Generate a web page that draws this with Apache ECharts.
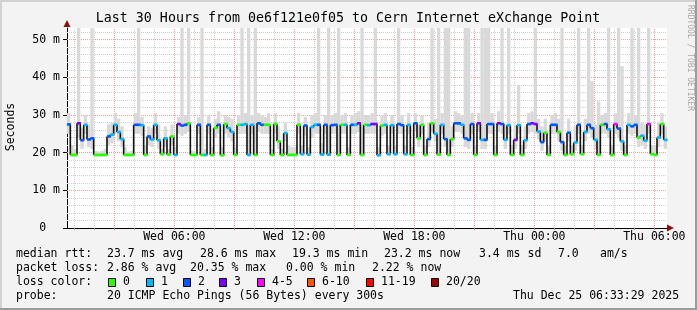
<!DOCTYPE html>
<html><head><meta charset="utf-8">
<script src="https://cdn.jsdelivr.net/npm/echarts@6/dist/echarts.min.js"></script>
<style>html,body{margin:0;padding:0;background:#f3f3f3;}#c{width:697px;height:310px;}</style>
</head><body><div id="c"></div>
<script>
// ---- data (10-minute samples, Wed 00:38 -> Thu 06:38) ----
const startHour = 0.633;      // hours since Wed 00:00
const stepHours = 1 / 6;
const median = [
27.5,19.4,19.4,27.8,23.3,27.4,23.5,23.8,19.4,19.4,
19.4,19.4,24.3,24.8,27.4,25.5,23.6,19.4,19.4,19.4,
27.4,27.4,27.3,19.4,24.3,23.5,27.4,23.3,19.6,23.8,
19.5,24.3,19.4,27.6,27.2,27.4,27.8,19.4,19.4,27.4,
19.4,19.4,27.4,19.4,26.6,27.4,19.3,27.6,26.5,25.5,
19.4,27.4,27.4,27.6,19.4,27.4,19.4,27.8,27.4,27.4,
27.4,19.4,27.6,23.0,19.4,25.2,19.4,19.4,19.4,27.4,
19.6,27.2,19.5,26.8,27.4,27.4,19.5,27.4,19.5,27.3,
27.4,19.4,27.4,27.4,19.4,27.4,27.4,27.8,19.4,27.4,
27.3,27.6,27.6,19.3,27.2,27.4,19.6,27.3,19.6,27.6,
27.3,19.6,27.4,19.4,27.8,23.8,27.4,19.4,23.6,27.8,
25.0,19.5,27.4,23.6,19.4,23.6,27.8,27.8,27.4,23.8,
23.4,27.6,19.4,27.8,23.4,23.4,27.6,27.6,19.4,27.8,
27.6,23.4,27.3,19.4,23.4,27.3,19.4,23.3,27.6,27.8,
27.6,25.6,22.8,25.3,19.4,27.4,27.4,25.5,22.8,19.4,
25.3,19.6,22.7,27.4,19.6,25.5,27.4,26.5,23.4,19.4,
27.4,27.6,26.2,19.4,27.6,26.4,23.0,19.4,27.4,27.0,
27.4,24.0,24.5,23.2,27.6,19.6,19.4,24.0,27.6,23.4];
const loss = [
2,0,0,3,2,1,2,2,0,0, 0,0,2,1,1,1,1,0,0,0, 2,2,1,0,2,1,1,1,0,1,
0,0,1,3,2,2,0,0,0,2, 0,1,2,0,0,2,0,0,1,1, 0,0,1,1,1,1,0,2,2,0,
0,0,0,0,0,1,0,0,0,0, 1,2,1,1,1,2,1,2,1,2, 2,0,0,1,0,2,1,3,0,0,
1,3,3,1,0,1,1,1,1,2, 2,1,1,0,2,0,0,0,2,0, 1,0,1,2,0,0,2,2,1,2,
2,2,0,3,1,2,2,2,0,3, 2,1,1,0,3,1,0,1,2,3, 3,1,2,0,0,2,2,0,2,0,
2,0,1,2,0,1,2,2,1,0, 0,2,1,0,4,2,1,0,1,2, 2,0,1,1,4,0,0,1,0,1];
const smokeMin = [
25.0,19.0,19.0,24.0,21.0,25.0,21.5,21.0,19.0,19.0,
19.0,19.0,22.0,22.5,25.0,23.0,21.5,19.0,19.0,19.0,
25.0,25.0,24.5,19.0,22.0,21.5,25.0,21.0,19.2,21.5,
19.1,22.0,19.0,25.0,24.5,25.0,25.5,19.0,19.0,25.0,
19.0,19.0,25.0,19.0,24.0,25.0,19.0,25.0,24.0,23.0,
19.0,25.0,25.0,25.0,19.0,25.0,19.0,25.5,25.0,25.0,
25.0,19.0,25.0,21.0,19.0,23.0,19.0,19.0,19.0,25.0,
19.2,24.5,19.1,24.0,25.0,25.0,19.1,25.0,19.1,25.0,
25.0,19.0,25.0,25.0,19.0,25.0,25.0,25.5,19.0,25.0,
25.0,25.0,25.0,19.0,24.5,25.0,19.2,25.0,19.2,25.0,
25.0,19.2,25.0,19.0,25.5,21.5,25.0,19.0,21.5,25.5,
23.0,19.1,25.0,21.5,19.0,21.5,25.5,25.5,25.0,21.5,
21.0,25.0,19.0,25.5,21.0,21.0,25.0,25.0,19.0,25.5,
25.0,21.0,25.0,19.0,21.0,25.0,19.0,21.0,25.0,25.5,
25.0,23.5,20.5,23.0,19.0,25.0,25.0,23.0,20.5,19.0,
23.0,19.2,20.5,25.0,19.2,23.0,25.0,24.0,21.0,19.0,
25.0,25.0,24.0,19.0,25.0,24.0,20.5,19.0,25.0,24.5,
25.0,21.5,22.0,21.0,25.0,19.2,19.0,21.5,25.0,21.0];
const smokeMax = [
30.5,22.0,21.0,60,26.5,30.0,27.5,60,20.5,20.3,
20.5,21.0,27.5,28.0,30.5,29.0,27.0,21.5,20.3,20.5,
30.5,60,29.5,22.0,27.0,26.5,30.5,27.5,21.0,27.0,
21.0,27.5,21.5,29.5,60,30.0,60,20.5,20.3,29.5,
60,21.0,30.0,21.5,29.0,31.0,21.5,30.0,29.5,29.0,
21.5,30.0,60,30.5,60,30.0,60,30.5,30.0,29.5,
30.5,21.0,30.5,27.0,21.0,28.0,22.0,21.5,21.5,30.5,
22.0,29.5,21.5,30.0,30.5,60,22.5,30.0,60,30.0,
30.5,60,30.0,30.5,21.5,30.0,30.5,31.0,60,30.0,
30.0,30.5,60,21.5,30.0,30.5,22.0,30.0,22.0,60,
30.0,22.0,30.5,21.5,30.5,27.5,30.0,22.0,28.0,60,
29.0,60,30.5,60,60,27.0,31.0,30.5,30.0,60,
60,30.5,22.0,30.5,60,60,60,30.5,22.0,31.0,
60,27.5,60,22.0,27.5,38,22.0,27.0,30.5,31.0,
60,29.0,27.0,29.0,22.0,30.0,30.5,29.0,60,22.0,
29.0,22.0,27.0,60,22.0,29.0,60,39,27.5,33.6,
30.0,30.5,60,22.0,30.5,60,43,22.0,30.5,60,
30.0,60,28.0,27.5,60,22.0,22.0,28.0,30.5,27.0];

const xLabelHours = [6, 12, 18, 24, 30];
const yTicks = [0, 10, 20, 30, 40, 50];
const lossLabels = ['0', '1', '2', '3', '4-5', '6-10', '11-19', '20/20'];
const lossUpper  = [0, 1, 2, 3, 5, 10, 19, 20];
const lossColors = ['#26ff00', '#00b8ff', '#0059ff', '#7e00ff', '#ff00ff', '#ff5500', '#ff0000', '#a00000'];

const titleText = 'Last 30 Hours from 0e6f121e0f05 to Cern Internet eXchange Point';
const rttTexts  = ['median rtt:', '23.7 ms avg', '28.6 ms max', '19.3 ms min', '23.2 ms now', '3.4 ms sd', '7.0', 'am/s'];
const lossTexts = ['packet loss:', '2.86 % avg', '20.35 % max', '0.00 % min', '2.22 % now'];
const probeTexts = ['probe:', '20 ICMP Echo Pings (56 Bytes) every 300s', 'Thu Dec 25 06:33:29 2025'];

// ---- layout ----
const rttX   = [16, 107, 200, 292, 384, 479, 558, 600];
const lossX  = [16, 107, 190, 286, 372];
const probeX = [16, 107, 513];
const boxX   = [108, 146, 183, 219, 257, 307, 366, 431];
const MONO = '"DejaVu Sans Mono", monospace';
const FS = 11.5;
const F = FS + 'px ' + MONO;

const times = median.map((_, i) => +(startHour + (i + 0.5) * stepHours).toFixed(4));
function lossColor(n) { for (let k = 0; k < lossUpper.length; k++) if (n <= lossUpper[k]) return lossColors[k]; return lossColors[lossColors.length - 1]; }

const RED = '#f4a0a0', GRAY = '#d0d0d0';
const gridLines = [];
for (let h = 1; h <= 30; h++) gridLines.push({ xAxis: h, lineStyle: { color: h % 3 === 0 ? RED : GRAY, type: [1, 1], width: 1 } });
for (let v = 2; v <= 52; v += 2) gridLines.push({ yAxis: v, lineStyle: { color: v % 10 === 0 ? RED : GRAY, type: [1, 1], width: 1 } });
const hourTicks = []; for (let h = 1; h <= 30; h++) hourTicks.push(h);

function dayLabel(h) {
  const day = h < 24 ? 'Wed' : 'Thu';
  const hh = h % 24;
  return day + ' ' + (hh < 10 ? '0' : '') + hh + ':00';
}

const graphic = [];
function txt(x, y, s) { graphic.push({ type: 'text', x: x, y: y, silent: true, style: { text: s, font: F, fill: '#000', align: 'left', verticalAlign: 'middle' } }); }
graphic.push({ type: 'text', x: 348, y: 19, silent: true, style: { text: titleText, font: '13.3px ' + MONO, fill: '#000', align: 'center', verticalAlign: 'middle' } });
graphic.push({ type: 'text', x: 11, y: 127, rotation: Math.PI / 2, silent: true, style: { text: 'Seconds', font: F, fill: '#000', align: 'center', verticalAlign: 'middle' } });
graphic.push({ type: 'text', x: 690, y: 58, rotation: -Math.PI / 2, silent: true, style: { text: 'RRDTOOL / TOBI OETIKER', font: '8px ' + MONO, fill: '#a8a8a8', align: 'center', verticalAlign: 'middle' } });
rttTexts.forEach((s, i) => txt(rttX[i], 254, s));
lossTexts.forEach((s, i) => txt(lossX[i], 268, s));
txt(16, 282, 'loss color:');
lossLabels.forEach((s, i) => {
  graphic.push({ type: 'rect', silent: true, shape: { x: boxX[i] + 0.5, y: 278.5, width: 7, height: 8 }, style: { fill: lossColors[i], stroke: '#000', lineWidth: 1 } });
  txt(boxX[i] + 15, 282, s);
});
probeTexts.forEach((s, i) => txt(probeX[i], 296, s));
graphic.push({ type: 'polygon', silent: true, shape: { points: [[67, 20], [63.5, 27], [70.5, 27]] }, style: { fill: '#8b1010' } });
graphic.push({ type: 'polygon', silent: true, shape: { points: [[674, 228], [667, 224.5], [667, 231.5]] }, style: { fill: '#8b1010' } });
graphic.push({ type: 'rect', silent: true, shape: { x: 0, y: 0, width: 697, height: 2 }, style: { fill: '#d2d2d2' } });
graphic.push({ type: 'rect', silent: true, shape: { x: 0, y: 0, width: 2, height: 310 }, style: { fill: '#d2d2d2' } });
graphic.push({ type: 'rect', silent: true, shape: { x: 0, y: 308, width: 697, height: 2 }, style: { fill: '#9c9c9c' } });
graphic.push({ type: 'rect', silent: true, shape: { x: 695, y: 0, width: 2, height: 310 }, style: { fill: '#9c9c9c' } });

function clipTo(cs, r) {
  return echarts.graphic.clipRectByRect(r, { x: cs.x, y: cs.y, width: cs.width, height: cs.height });
}
function smokeItem(params, api) {
  const t = api.value(0), lo = api.value(1), hi = api.value(2);
  const p0 = api.coord([t - stepHours / 2, hi]);
  const p1 = api.coord([t + stepHours / 2, lo]);
  const r = clipTo(params.coordSys, { x: p0[0], y: p0[1], width: p1[0] - p0[0], height: p1[1] - p0[1] });
  return r ? { type: 'rect', shape: r, style: { fill: '#d9d9d9' } } : null;
}
function medianItem(params, api) {
  const t = api.value(0), v = api.value(1), n = api.value(2), vn = api.value(3);
  const a = api.coord([t - stepHours / 2, v]);
  const b = api.coord([t + stepHours / 2, v]);
  const children = [];
  if (!isNaN(vn)) {
    const c = api.coord([t + stepHours / 2, vn]);
    children.push({ type: 'line', shape: { x1: b[0], y1: b[1], x2: c[0], y2: c[1] }, style: { stroke: '#111', lineWidth: 1.6 } });
  }
  children.push({ type: 'rect', shape: { x: a[0], y: a[1] - 1.3, width: b[0] - a[0] + 0.6, height: 2.6 }, style: { fill: lossColor(n) } });
  return { type: 'group', children: children };
}

const chart = echarts.init(document.getElementById('c'), null, { renderer: 'canvas', width: 697, height: 310 });
chart.setOption({
  animation: false,
  backgroundColor: '#f3f3f3',
  grid: { left: 67, right: 30, top: 28, bottom: 82, show: true, backgroundColor: '#ffffff', borderWidth: 0, containLabel: false, outerBoundsMode: 'none' },
  xAxis: {
    type: 'value', min: startHour, max: startHour + 30,
    axisLine: { show: true, lineStyle: { color: '#000', width: 1 } },
    axisTick: { show: true, customValues: hourTicks, length: 2, lineStyle: { color: '#999' } },
    axisLabel: { customValues: xLabelHours, formatter: v => dayLabel(Math.round(v)), fontFamily: MONO, fontSize: FS, color: '#000', margin: 3, hideOverlap: false },
    splitLine: { show: false }
  },
  yAxis: {
    type: 'value', min: 0, max: 53.1,
    axisLine: { show: true, lineStyle: { color: '#000', width: 1 } },
    axisTick: { show: true, customValues: yTicks, length: 4, lineStyle: { color: '#000' } },
    axisLabel: { customValues: yTicks, formatter: v => v === 0 ? '0  ' : v + ' m', fontFamily: MONO, fontSize: FS, color: '#000', margin: 7 },
    splitLine: { show: false }
  },
  series: [
    { type: 'custom', name: 'smoke', silent: true, z: 2, renderItem: smokeItem,
      encode: { x: 0, y: [1, 2] },
      data: times.map((t, i) => [t, smokeMin[i], smokeMax[i]]),
      markLine: { silent: true, symbol: ['none', 'none'], z: 1, label: { show: false }, animation: false, data: gridLines } },
    { type: 'custom', name: 'median', silent: true, z: 3, renderItem: medianItem,
      encode: { x: 0, y: 1 },
      data: times.map((t, i) => [t, median[i], loss[i], i + 1 < median.length ? median[i + 1] : NaN]) }
  ],
  graphic: graphic
});
</script></body></html>
